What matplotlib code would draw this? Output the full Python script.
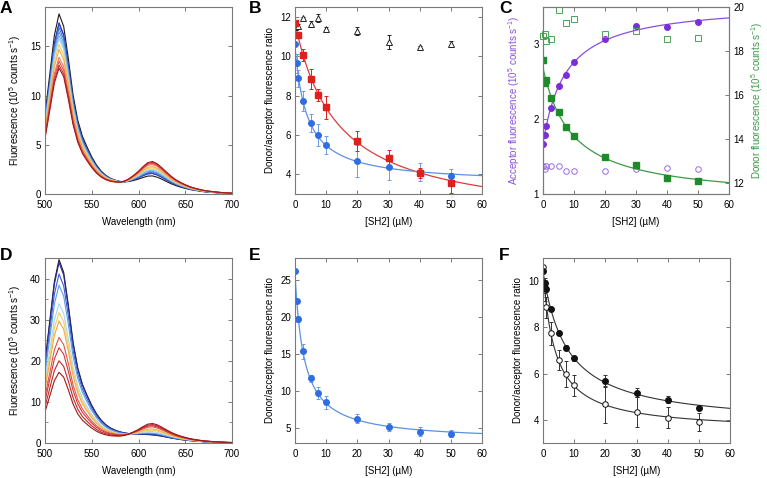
import numpy as np
import matplotlib
matplotlib.use("Agg")
import matplotlib.pyplot as plt
from matplotlib.ticker import MultipleLocator

plt.rcParams['font.family'] = ['Liberation Sans', 'DejaVu Sans']
plt.rcParams['mathtext.fontset'] = 'custom'
plt.rcParams['mathtext.rm'] = 'Liberation Sans'
plt.rcParams['mathtext.it'] = 'Liberation Sans:italic'
plt.rcParams['font.size'] = 7

# ---- spectra (A, D): band shapes read at 5 nm steps ----
wavelength = np.arange(500, 701, 5)
donor_band = [0.44, 0.66, 0.88, 1.00, 0.93, 0.75, 0.55, 0.41, 0.32, 0.26,
              0.205, 0.16, 0.125, 0.10, 0.082, 0.07, 0.061, 0.055, 0.051, 0.049,
              0.048, 0.047, 0.046, 0.044, 0.041, 0.037, 0.032, 0.027, 0.023, 0.019,
              0.016, 0.013, 0.011, 0.009, 0.007, 0.006, 0.005, 0.004, 0.003, 0.002, 0.002]
acceptor_band = [0.0, 0.0, 0.0, 0.0, 0.002, 0.004, 0.006, 0.008, 0.01, 0.015,
                 0.02, 0.03, 0.045, 0.065, 0.09, 0.12, 0.155, 0.22, 0.33, 0.47,
                 0.62, 0.80, 0.95, 1.00, 0.93, 0.80, 0.66, 0.53, 0.42, 0.34,
                 0.27, 0.21, 0.165, 0.13, 0.10, 0.08, 0.062, 0.048, 0.037, 0.029, 0.022]

donor_A = [18.3, 17.4, 17.3, 16.9, 16.5, 16.1, 15.8, 15.2, 14.7, 13.9, 13.5, 13.1, 12.8]
acceptor_A = [1.03, 1.31, 1.34, 1.46, 1.59, 1.71, 1.81, 1.99, 2.15, 2.39, 2.52, 2.64, 2.74]
colors_A = ['#1a1a1a', '#27289a', '#3448c4', '#4670d6', '#5b98e4', '#7bbcec', '#9fd3ee',
            '#f1d35c', '#f3a748', '#ee7d66', '#e05349', '#cc3131', '#a41c1c']

donor_D = [44.6, 43.9, 41.1, 38.4, 33.9, 31.7, 29.7, 25.7, 23.2, 20.0, 17.2]
acceptor_D = [0.0, 0.1, 0.4, 0.7, 1.3, 1.7, 2.1, 2.8, 3.2, 3.6, 4.0]
colors_D = ['#1a1a1a', '#27289a', '#3d5ccc', '#5d9fe4', '#a6d8f0', '#f1d35c',
            '#f3a748', '#e05349', '#d03a3a', '#c02828', '#9c1a1a']

# ---- titrations ----
sh2 = [0, 0.5, 1, 2.5, 5, 7.5, 10, 20, 30, 40, 50]

# B
tri_x = [0, 1, 2.5, 5, 7.5, 10, 20, 30, 40, 50]
tri_y = [11.49, 11.53, 11.95, 11.63, 11.95, 11.39, 11.29, 10.73, 10.45, 10.6]
tri_err = [0.1, 0.1, 0.05, 0.15, 0.2, 0.1, 0.2, 0.35, 0.05, 0.15]
red_x = [0, 1, 2.5, 5, 7.5, 10, 20, 30, 40, 50]
red_y = [11.71, 11.07, 10.05, 8.84, 8.02, 7.40, 5.69, 4.81, 4.05, 3.57]
red_err = [0.1, 0.15, 0.3, 0.53, 0.3, 0.57, 0.5, 0.45, 0.25, 0.5]
blue_y = [10.60, 9.63, 8.87, 7.74, 6.59, 5.99, 5.49, 4.68, 4.35, 4.10, 3.91]
blue_err = [0.1, 0.5, 0.45, 0.5, 0.45, 0.55, 0.47, 0.8, 0.65, 0.45, 0.37]

# C
acc_bound = [1.67, 1.79, 1.91, 2.15, 2.45, 2.59, 2.76, 3.07, 3.25, 3.23, 3.30]
acc_ctrl = [1.38, 1.33, 1.38, 1.38, 1.38, 1.31, 1.31, 1.31, 1.33, 1.35, 1.34]
don_bound = [17.58, 16.54, 16.69, 15.87, 15.21, 14.55, 14.14, 13.18, 12.81, 12.23, 12.08]
don_ctrl = [18.68, 18.76, 18.47, 18.53, 19.87, 19.26, 19.46, 18.76, 18.91, 18.53, 18.57]

# E
e_y = [26.26, 22.13, 19.75, 15.40, 11.73, 9.80, 8.50, 6.30, 5.22, 4.55, 4.28]
e_err = [0.2, 0.2, 0.4, 1.0, 0.5, 0.8, 0.85, 0.6, 0.55, 0.6, 0.45]

# F
f_fill = [10.44, 9.94, 9.68, 8.79, 7.76, 7.12, 6.66, 5.67, 5.17, 4.87, 4.50]
f_fill_err = [0.1, 0.1, 0.1, 0.1, 0.1, 0.1, 0.1, 0.25, 0.2, 0.15, 0.08]


def hyper_fit(x, y):
    # single-site binding hyperbola fitted to the points
    x = np.asarray(x, float)
    y = np.asarray(y, float)
    best = None
    for k in np.logspace(-1, 2.5, 500):
        A = np.column_stack([np.ones_like(x), x / (k + x)])
        coef = np.linalg.lstsq(A, y, rcond=None)[0]
        err = np.sum((A @ coef - y) ** 2)
        if best is None or err < best[0]:
            best = (err, k, coef)
    _, k, (a, b) = best
    xs = np.linspace(0, 60, 300)
    return xs, a + b * xs / (k + xs)


def style(ax, right=True):
    for s in ax.spines.values():
        s.set_color('#7a7a7a')
        s.set_linewidth(0.8)
    ax.tick_params(direction='in', length=3, width=0.7, color='#7a7a7a',
                   top=True, right=right, labelsize=7, pad=3)
    ax.tick_params(axis='x', pad=4.5)


def conc_axis(ax):
    ax.set_xlim(0, 60)
    ax.xaxis.set_major_locator(MultipleLocator(10))
    ax.set_xlabel('[SH2] (µM)', labelpad=5)


fig = plt.figure(figsize=(7.67, 4.78), dpi=100)
W, H = 767, 478


def add(x0, y0, x1, y1):
    return fig.add_axes([x0 / W, 1 - y1 / H, (x1 - x0) / W, (y1 - y0) / H])


axA = add(45, 7, 232, 194)
axB = add(295, 7, 482, 194)
axC = add(543, 7, 729, 194)
axD = add(45, 258, 232, 443)
axE = add(295, 258, 482, 443)
axF = add(543, 258, 730, 443)

dn = np.array(donor_band)
ac = np.array(acceptor_band)

# A
for d, a, c in zip(donor_A, acceptor_A, colors_A):
    axA.plot(wavelength, d * dn + a * ac, color=c, lw=0.8)
axA.set_xlim(500, 700)
axA.set_ylim(0, 19)
axA.xaxis.set_major_locator(MultipleLocator(50))
axA.yaxis.set_major_locator(MultipleLocator(5))
axA.set_xlabel('Wavelength (nm)', labelpad=5)
axA.set_ylabel('Fluorescence (10$^5$ counts s$^{-1}$)', labelpad=5)
style(axA)

# D
for d, a, c in zip(donor_D, acceptor_D, colors_D):
    axD.plot(wavelength, d * dn + a * ac, color=c, lw=0.8)
axD.set_xlim(500, 700)
axD.set_ylim(0, 45)
axD.xaxis.set_major_locator(MultipleLocator(50))
axD.yaxis.set_major_locator(MultipleLocator(10))
axD.yaxis.set_minor_locator(MultipleLocator(5))
axD.set_xlabel('Wavelength (nm)', labelpad=5)
axD.set_ylabel('Fluorescence (10$^5$ counts s$^{-1}$)', labelpad=5)
style(axD)
axD.tick_params(which='minor', direction='in', length=2, width=0.6,
                color='#7a7a7a', right=True)

# B
xs, ys = hyper_fit(red_x, red_y)
axB.plot(xs, ys, color='#e03a3a', lw=0.9)
xs, ys = hyper_fit(sh2, blue_y)
axB.plot(xs, ys, color='#5b90e6', lw=0.9)
axB.errorbar(tri_x, tri_y, yerr=tri_err, fmt='^', ms=4, mfc='white', mec='#222222',
             mew=0.7, ecolor='#222222', elinewidth=0.7, capsize=1.5, capthick=0.7)
axB.errorbar(sh2, blue_y, yerr=blue_err, fmt='o', ms=4, color='#2f6de0',
             ecolor='#6d9be8', elinewidth=0.7, capsize=1.5, capthick=0.7)
axB.errorbar(red_x, red_y, yerr=red_err, fmt='s', ms=4, color='#e0201c',
             ecolor='#e0201c', elinewidth=0.7, capsize=1.5, capthick=0.7)
conc_axis(axB)
axB.set_ylim(3, 12.5)
axB.yaxis.set_major_locator(MultipleLocator(2))
axB.set_ylabel('Donor/acceptor fluorescence ratio', labelpad=4)
style(axB)

# C
purple = '#7a2fd6'
green = '#1f8a2a'
xs, ys = hyper_fit(sh2, acc_bound)
axC.plot(xs, ys, color='#8a4fe0', lw=0.9)
axC.plot(sh2, acc_bound, 'o', ms=4, color=purple)
axC.plot(sh2, acc_ctrl, 'o', ms=4, mfc='none', mec='#9a6ae6', mew=0.7)
axC.set_ylim(1, 3.5)
axC.yaxis.set_major_locator(MultipleLocator(1))
axC.set_ylabel('Acceptor fluorescence (10$^5$ counts s$^{-1}$)', color='#8a4fe0', labelpad=8)
conc_axis(axC)
style(axC, right=False)
axC2 = axC.twinx()
xs, ys = hyper_fit(sh2, don_bound)
axC2.plot(xs, ys, color='#3a9a46', lw=0.9)
axC2.plot(sh2, don_bound, 's', ms=4, color=green)
axC2.plot(sh2, don_ctrl, 's', ms=4.2, mfc='none', mec='#4aa455', mew=0.7, clip_on=False)
axC2.set_ylim(11.5, 20)
axC2.yaxis.set_major_locator(MultipleLocator(2))
axC2.set_ylabel('Donor fluorescence (10$^5$ counts s$^{-1}$)', color='#3a9a46', labelpad=4)
for s in axC2.spines.values():
    s.set_color('#7a7a7a')
    s.set_linewidth(0.8)
axC2.tick_params(direction='in', length=3, width=0.7, color='#7a7a7a', labelsize=7, pad=3)

# E
xs, ys = hyper_fit(sh2, e_y)
axE.plot(xs, ys, color='#5b90e6', lw=0.9)
axE.errorbar(sh2, e_y, yerr=e_err, fmt='o', ms=4, color='#2f6de0',
             ecolor='#6d9be8', elinewidth=0.7, capsize=1.5, capthick=0.7)
conc_axis(axE)
axE.set_ylim(3, 28)
axE.yaxis.set_major_locator(MultipleLocator(5))
axE.set_ylabel('Donor/acceptor fluorescence ratio', labelpad=4)
style(axE)

# F
xs, ys = hyper_fit(sh2, f_fill)
axF.plot(xs, ys, color='#333333', lw=0.8)
xs, ys = hyper_fit(sh2, blue_y)
axF.plot(xs, ys, color='#333333', lw=0.8)
axF.errorbar(sh2, blue_y, yerr=blue_err, fmt='o', ms=4, mfc='white', mec='#111111',
             mew=0.7, ecolor='#333333', elinewidth=0.7, capsize=1.5, capthick=0.7)
axF.errorbar(sh2, f_fill, yerr=f_fill_err, fmt='o', ms=4, color='#111111',
             ecolor='#333333', elinewidth=0.7, capsize=1.5, capthick=0.7)
conc_axis(axF)
axF.set_ylim(3, 11)
axF.yaxis.set_major_locator(MultipleLocator(2))
axF.set_ylabel('Donor/acceptor fluorescence ratio', labelpad=4)
style(axF)

# panel letters
for lab, px, py in [('A', 0, 1), ('B', 249, 1), ('C', 499, 1),
                    ('D', 0, 248), ('E', 249, 248), ('F', 499, 248)]:
    fig.text(px / W, 1 - py / H, lab, fontsize=12.5, fontweight='bold', va='top', ha='left')

fig.savefig('out.png', dpi=100)
